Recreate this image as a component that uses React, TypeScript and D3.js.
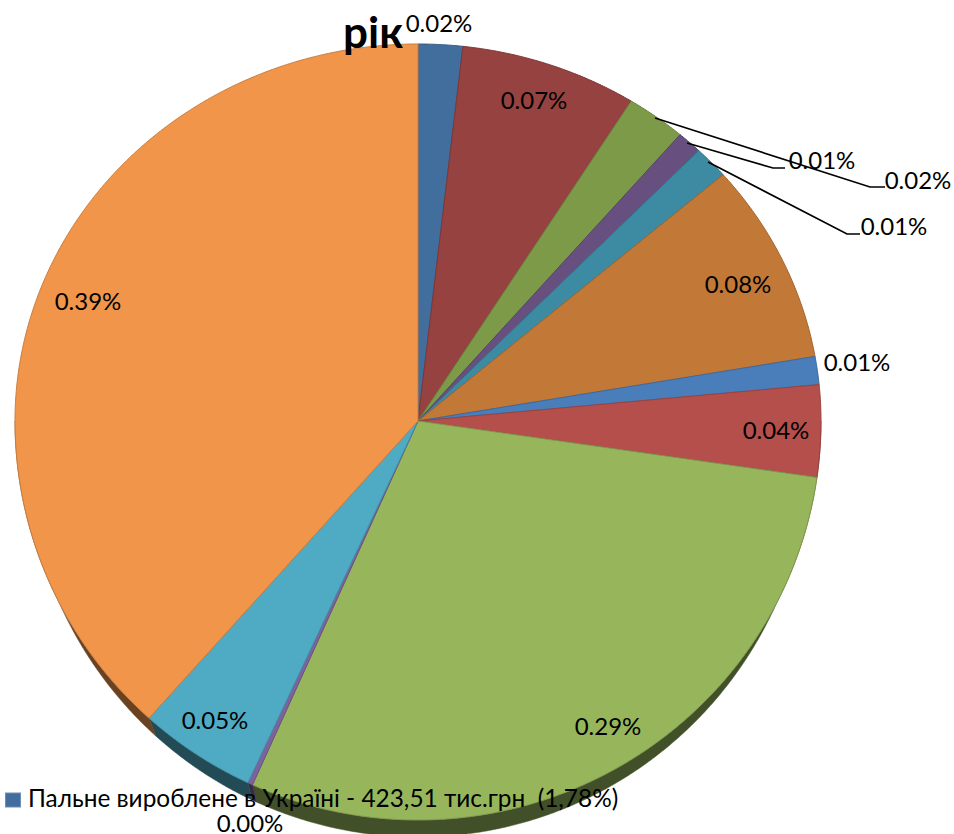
import React, { useEffect, useRef } from 'react';
import * as d3 from 'd3';

const sliceValues = [1.78, 7.1, 2.4, 1, 1.4, 8.6, 1.2, 3.8, 29.5, 0.2, 4.7, 38.4];
const sliceLabels = ['0.02%', '0.07%', '0.02%', '0.01%', '0.01%', '0.08%', '0.01%', '0.04%', '0.29%', '0.00%', '0.05%', '0.39%'];
const sliceColors = ['#426E9E', '#964240', '#7D9A48', '#67507F', '#3C8BA3', '#C27836', '#4A7EBB', '#B54F4C', '#97B65C', '#7D629E', '#4FAAC4', '#F0954A'];
const legendText = 'Пальне вироблене в Україні - 423,51 тис.грн  (1,78%)';

// label centres, relative to the pie centre
const labelOffsets = [[21, -397], [116, -320], [500, -240], [404, -260], [476, -194], [320, -136], [439, -58], [358, 10], [190, 306], [-168, 403], [-203, 300], [-330, -119]];
// leader lines for the three small slices
const leaders = [
  { i: 2, pts: [[237, -303], [452, -234], [467, -234]] },
  { i: 3, pts: [[269, -278], [355, -253], [367, -253]] },
  { i: 4, pts: [[290, -259], [429, -187], [442, -187]] },
];

const App = () => {
  const ref = useRef<SVGSVGElement>(null);

  useEffect(() => {
    const svg = d3.select(ref.current);
    svg.selectAll('*').remove();

    const cx = 418;
    const cy = 421;
    const rx = 403;
    // perspective: the far half of the pie is flatter than the near half
    const ryFar = 377;
    const ryNear = 399;
    const depth = 20;
    const taper = 10;

    const project = (a: number, shrinkX = 0, shift = 0, shrinkY = 0): [number, number] => {
      const c = Math.cos(a);
      const ry = (c > 0 ? ryFar : ryNear) - shrinkY;
      return [cx + (rx - shrinkX) * Math.sin(a), cy + shift - ry * c];
    };

    const edge = (start: number, end: number, shrinkX = 0, shift = 0, shrinkY = 0) => {
      const n = Math.max(2, Math.ceil((end - start) / 0.005));
      return d3.range(n + 1).map(k => project(start + ((end - start) * k) / n, shrinkX, shift, shrinkY));
    };

    const arcs = d3.pie<number>().sort(null)(sliceValues);
    const line = d3.line();

    // side wall, only where the rim faces the viewer
    svg.append('g')
      .selectAll('path')
      .data(arcs.filter(d => d.endAngle > Math.PI / 2 && d.startAngle < (3 * Math.PI) / 2))
      .enter()
      .append('path')
      .attr('d', d => {
        const a0 = Math.max(d.startAngle, Math.PI / 2);
        const a1 = Math.min(d.endAngle, (3 * Math.PI) / 2);
        return line([...edge(a0, a1), ...edge(a0, a1, taper, depth, 3).reverse()]) + 'Z';
      })
      .attr('fill', d => d3.color(sliceColors[d.index])!.darker(2.3).formatHex())
      .attr('stroke', d => d3.color(sliceColors[d.index])!.darker(2.3).formatHex())
      .attr('stroke-width', 0.5);

    // top face
    svg.append('g')
      .selectAll('path')
      .data(arcs)
      .enter()
      .append('path')
      .attr('d', d => line([[cx, cy], ...edge(d.startAngle, d.endAngle)]) + 'Z')
      .attr('fill', d => sliceColors[d.index])
      .attr('stroke', d => d3.color(sliceColors[d.index])!.darker(0.5).formatHex())
      .attr('stroke-width', 1);

    // title, most of it hidden in the original as well
    svg.append('text')
      .attr('x', 343)
      .attr('y', 48)
      .attr('font-size', 44)
      .attr('font-weight', 'bold')
      .attr('fill', '#000')
      .text('рік');

    // leader lines
    leaders.forEach(l => {
      svg.append('path')
        .attr('d', line(l.pts.map(p => [p[0] + cx, p[1] + cy] as [number, number])))
        .attr('fill', 'none')
        .attr('stroke', '#000')
        .attr('stroke-width', 1.7);
    });

    // value labels
    svg.selectAll('.value-label')
      .data(sliceLabels)
      .enter()
      .append('text')
      .attr('class', 'value-label')
      .attr('x', (d, i) => cx + labelOffsets[i][0])
      .attr('y', (d, i) => cy + labelOffsets[i][1])
      .attr('dy', '0.35em')
      .attr('text-anchor', 'middle')
      .attr('font-size', 24)
      .attr('fill', '#000')
      .text(d => d);

    // legend
    svg.append('rect')
      .attr('x', 5.5)
      .attr('y', 793)
      .attr('width', 15)
      .attr('height', 14)
      .attr('fill', sliceColors[0])
      .attr('stroke', '#6f8fb3')
      .attr('stroke-width', 1);

    svg.append('text')
      .attr('x', 28)
      .attr('y', 807)
      .attr('font-size', 24.4)
      .attr('fill', '#000')
      .style('white-space', 'pre')
      .text(legendText);
  }, []);

  return (
    <svg
      ref={ref}
      width={954}
      height={834}
      style={{ position: 'absolute', left: 0, top: 0, fontFamily: 'Lato, "Open Sans", sans-serif', background: '#fff' }}
    />
  );
};

export default App;
